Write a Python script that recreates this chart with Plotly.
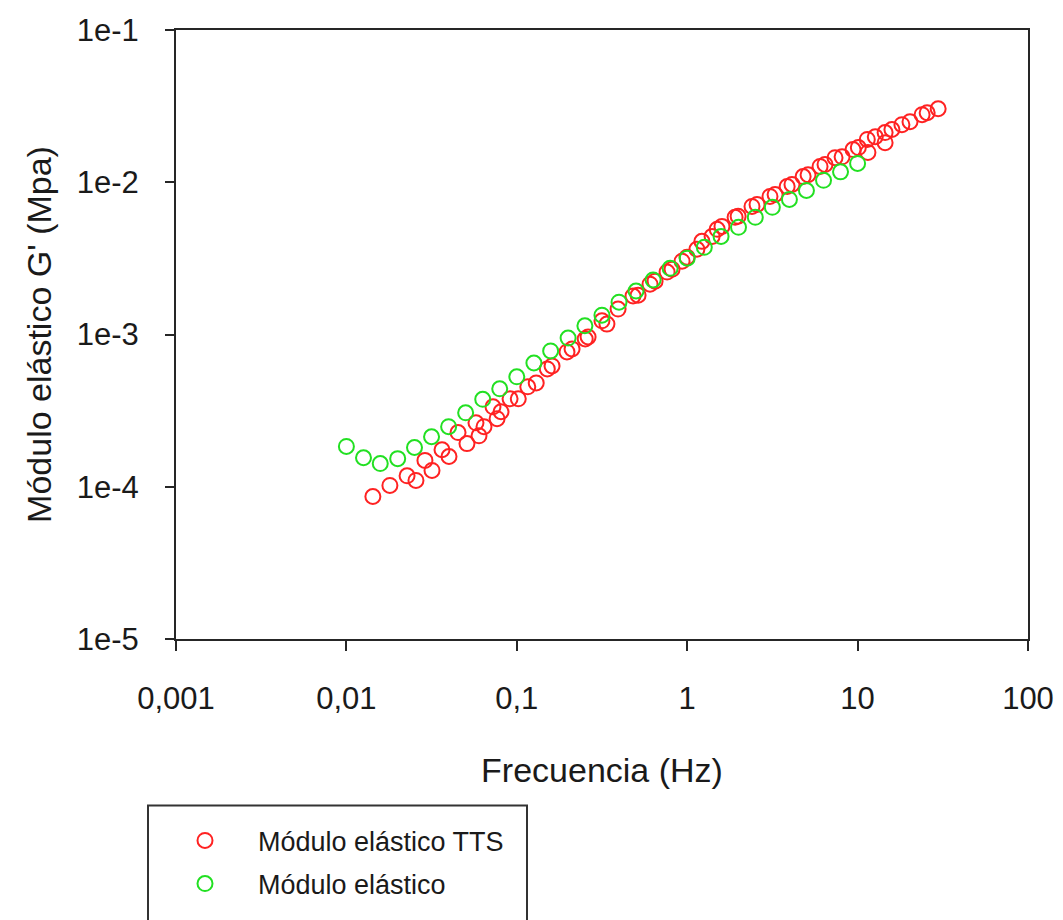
import plotly.graph_objects as go

# Green series: "Módulo elástico"
freq_green = [0.01, 0.0126, 0.0158, 0.02, 0.0251, 0.0316, 0.0398, 0.0501, 0.0631, 0.0794,
              0.1, 0.126, 0.158, 0.2, 0.251, 0.316, 0.398, 0.501, 0.631, 0.794,
              1.0, 1.26, 1.58, 2.0, 2.51, 3.16, 3.98, 5.01, 6.31, 7.94, 10.0]
g_green = [1.84e-4, 1.55e-4, 1.42e-4, 1.53e-4, 1.81e-4, 2.13e-4, 2.48e-4, 3.06e-4, 3.75e-4, 4.40e-4,
           5.27e-4, 6.50e-4, 7.80e-4, 9.48e-4, 1.14e-3, 1.34e-3, 1.63e-3, 1.93e-3, 2.28e-3, 2.72e-3,
           3.17e-3, 3.74e-3, 4.41e-3, 5.06e-3, 5.88e-3, 6.84e-3, 7.71e-3, 8.83e-3, 1.03e-2, 1.17e-2, 1.33e-2]

# Red series: "Módulo elástico TTS"
freq_red = [0.0143, 0.0180, 0.0227, 0.0256, 0.0289, 0.0318, 0.0364, 0.0400, 0.0452, 0.0510,
            0.0576, 0.0600, 0.0642, 0.0725, 0.0766, 0.0808, 0.0913, 0.102, 0.116, 0.130,
            0.151, 0.161, 0.197, 0.211, 0.252, 0.262, 0.316, 0.338, 0.393, 0.481,
            0.515, 0.605, 0.648, 0.762, 0.815, 0.933, 0.998, 1.14, 1.22, 1.40,
            1.50, 1.60, 1.91, 1.99, 2.40, 2.57, 3.06, 3.28, 3.86, 4.12,
            4.79, 5.12, 6.02, 6.44, 7.37, 8.11, 9.40, 10.1, 11.5, 11.4,
            12.7, 14.5, 14.5, 15.9, 18.2, 20.3, 23.9, 25.6, 29.7]
g_red = [8.63e-5, 1.02e-4, 1.18e-4, 1.10e-4, 1.49e-4, 1.28e-4, 1.75e-4, 1.58e-4, 2.27e-4, 1.92e-4,
         2.63e-4, 2.16e-4, 2.48e-4, 3.35e-4, 2.80e-4, 3.11e-4, 3.78e-4, 3.78e-4, 4.53e-4, 4.81e-4,
         5.94e-4, 6.22e-4, 7.68e-4, 8.04e-4, 9.34e-4, 9.63e-4, 1.23e-3, 1.17e-3, 1.47e-3, 1.79e-3,
         1.81e-3, 2.14e-3, 2.24e-3, 2.57e-3, 2.68e-3, 3.03e-3, 3.22e-3, 3.63e-3, 4.09e-3, 4.41e-3,
         4.91e-3, 5.13e-3, 5.88e-3, 5.97e-3, 6.94e-3, 7.15e-3, 8.07e-3, 8.31e-3, 9.38e-3, 9.67e-3,
         1.09e-2, 1.12e-2, 1.27e-2, 1.31e-2, 1.45e-2, 1.47e-2, 1.64e-2, 1.69e-2, 1.57e-2, 1.91e-2,
         1.99e-2, 1.82e-2, 2.12e-2, 2.22e-2, 2.39e-2, 2.50e-2, 2.78e-2, 2.86e-2, 3.04e-2]

x_tickvals = [0.001, 0.01, 0.1, 1, 10, 100]
x_ticktext = ["0,001", "0,01", "0,1", "1", "10", "100"]
y_tickvals = [1e-5, 1e-4, 1e-3, 1e-2, 1e-1]
y_ticktext = ["1e-5", "1e-4", "1e-3", "1e-2", "1e-1"]

FONT = "Liberation Sans, Arial, sans-serif"
AXC = "#262626"

fig = go.Figure()
fig.add_trace(go.Scatter(
    x=freq_red, y=g_red, mode="markers", name="Módulo elástico TTS", legendgroup="a",
    marker=dict(symbol="circle-open", size=15, color="#ff2222", line=dict(width=2, color="#ff2222")),
))
fig.add_trace(go.Scatter(
    x=freq_green, y=g_green, mode="markers", name="Módulo elástico", legendgroup="b",
    marker=dict(symbol="circle-open", size=15, color="#22e022", line=dict(width=2, color="#22e022")),
))

fig.update_layout(
    width=1055, height=912,
    margin=dict(l=168, r=35, t=22, b=279),
    paper_bgcolor="white", plot_bgcolor="white",
    font=dict(family=FONT, color="#1a1a1a"),
    showlegend=True,
    legend=dict(
        x=(152 - 176) / 852, y=(641 - 819) / 611, xanchor="left", yanchor="top",
        font=dict(size=27, family=FONT, color="#1a1a1a"),
        bgcolor="rgba(0,0,0,0)", borderwidth=0,
        tracegroupgap=5, itemwidth=96,
    ),
    shapes=[dict(type="rect", xref="paper", yref="paper",
                 x0=(148 - 176) / 852, x1=(527 - 176) / 852,
                 y0=(641 - 808) / 611, y1=(641 - 940) / 611,
                 line=dict(color="#333333", width=2), fillcolor="rgba(0,0,0,0)")],
)

fig.update_xaxes(
    type="log", range=[-3, 2], automargin=False,
    tickvals=x_tickvals, ticktext=x_ticktext,
    ticks="outside", ticklen=10, tickwidth=2, tickcolor=AXC,
    showline=True, linecolor=AXC, linewidth=2, mirror=True,
    showgrid=False, zeroline=False,
    tickfont=dict(size=31, family=FONT, color="#1a1a1a"),
    ticklabelstandoff=21,
    title=dict(text="Frecuencia (Hz)", font=dict(size=34, family=FONT, color="#1a1a1a"), standoff=43),
)
fig.update_yaxes(
    type="log", range=[-5, -1], automargin=False,
    tickvals=y_tickvals, ticktext=y_ticktext,
    ticks="outside", ticklen=9, tickwidth=2, tickcolor=AXC,
    showline=True, linecolor=AXC, linewidth=2, mirror=True,
    showgrid=False, zeroline=False,
    tickfont=dict(size=31, family=FONT, color="#1a1a1a"),
    ticklabelstandoff=20,
    title=dict(text="Módulo elástico G' (Mpa)", font=dict(size=34, family=FONT, color="#1a1a1a"), standoff=15),
)

fig.write_html("out.html")
